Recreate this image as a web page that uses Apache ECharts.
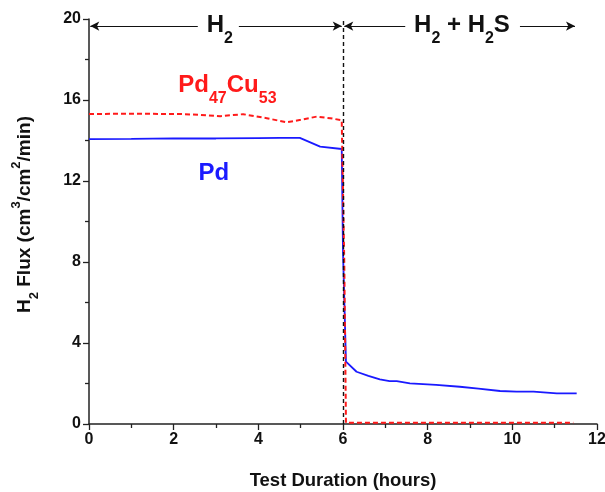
<!DOCTYPE html>
<html>
<head>
<meta charset="utf-8">
<script src="https://cdn.jsdelivr.net/npm/echarts@6/dist/echarts.min.js"></script>
<style>
  html, body { margin: 0; padding: 0; background: #fff; }
  #chart { width: 605px; height: 492px; }
</style>
</head>
<body>
<div id="chart"></div>
<script>
// Pd membrane, H2 flux vs time
var pdHours = [0, 1, 2, 3, 4, 4.5, 4.98, 5.46, 5.97, 6.0, 6.07, 6.32, 6.6, 6.87, 7.1, 7.27, 7.58, 8.2, 8.76, 9.2, 9.71, 10.1, 10.5, 11.05, 11.52];
var pdFlux = [14.07, 14.08, 14.1, 14.1, 14.12, 14.13, 14.13, 13.7, 13.58, 8.5, 3.08, 2.58, 2.38, 2.2, 2.12, 2.12, 2.01, 1.93, 1.84, 1.75, 1.63, 1.6, 1.6, 1.51, 1.51];

// Pd47Cu53 membrane
var cuHours = [0, 1, 2.15, 2.6, 3.1, 3.64, 4.2, 4.67, 5.0, 5.38, 5.7, 5.97, 6.03, 6.07, 11.44];
var cuFlux = [15.31, 15.32, 15.31, 15.27, 15.2, 15.3, 15.1, 14.9, 15.02, 15.18, 15.1, 15.0, 8.0, 0.06, 0.06];

var switchHour = 6;
var xTicks = [0, 12, 2];
var yTicks = [0, 20, 4];

function pairs(xs, ys) {
    var out = [];
    for (var i = 0; i < xs.length; i++) {
        out.push([xs[i], ys[i]]);
    }
    return out;
}

var font = '"Liberation Sans", Arial, sans-serif';
var arrowY = 19.65;

var chart = echarts.init(document.getElementById('chart'));

var option = {
    animation: false,
    grid: {left: 89, right: 8, top: 19, bottom: 68, outerBoundsMode: 'none'},
    xAxis: {
        type: 'value',
        min: xTicks[0], max: xTicks[1], interval: xTicks[2],
        name: 'Test Duration (hours)',
        nameLocation: 'middle',
        nameGap: 47,
        nameTextStyle: {fontFamily: font, fontWeight: 'bold', fontSize: 18.5, color: '#111'},
        axisLine: {lineStyle: {color: '#222', width: 1.5}},
        axisTick: {length: 6, lineStyle: {color: '#222', width: 1.3}},
        minorTick: {show: true, splitNumber: 2, length: 4, lineStyle: {color: '#222', width: 1.3}},
        splitLine: {show: false},
        axisLabel: {fontFamily: font, fontWeight: 'bold', fontSize: 16, color: '#111', margin: 8}
    },
    yAxis: {
        type: 'value',
        min: yTicks[0], max: yTicks[1], interval: yTicks[2],
        name: '{gap|}{n|H}{sub|2}{n| Flux (cm}{sup|3}{n|/cm}{sup|2}{n|/min)}',
        nameLocation: 'middle',
        nameGap: 56,
        nameRotate: 90,
        nameTextStyle: {
            rich: {
                gap: {width: 14, lineHeight: 24},
                n: {fontFamily: font, fontWeight: 'bold', fontSize: 19, color: '#111', lineHeight: 24, verticalAlign: 'top', padding: [6, 0, 0, 0]},
                sub: {fontFamily: font, fontWeight: 'bold', fontSize: 13, color: '#111', lineHeight: 24, verticalAlign: 'top', padding: [19, 0, 0, 0]},
                sup: {fontFamily: font, fontWeight: 'bold', fontSize: 13, color: '#111', lineHeight: 24, verticalAlign: 'top', padding: [1, 0, 0, 0]}
            }
        },
        axisLine: {show: true, lineStyle: {color: '#222', width: 1.5}},
        axisTick: {show: true, length: 6, lineStyle: {color: '#222', width: 1.3}},
        minorTick: {show: true, splitNumber: 2, length: 4, lineStyle: {color: '#222', width: 1.3}},
        splitLine: {show: false},
        axisLabel: {fontFamily: font, fontWeight: 'bold', fontSize: 16, color: '#111', margin: 8}
    },
    series: [
        {
            name: 'Pd47Cu53',
            type: 'line',
            data: pairs(cuHours, cuFlux),
            showSymbol: false,
            lineStyle: {color: '#ff1a1a', width: 2, type: [5, 3]},
            z: 3
        },
        {
            name: 'Pd',
            type: 'line',
            data: pairs(pdHours, pdFlux),
            showSymbol: false,
            lineStyle: {color: '#1a1aff', width: 1.8},
            z: 2
        },
        {
            name: 'switch',
            type: 'line',
            data: [],
            silent: true,
            z: 4,
            markLine: {
                silent: true,
                symbol: 'none',
                label: {show: false},
                lineStyle: {color: '#111', width: 1.4, type: [4, 3]},
                data: [{xAxis: switchHour}]
            }
        },
        {
            name: 'arrows',
            type: 'line',
            data: [],
            silent: true,
            markLine: {
                silent: true,
                label: {show: false},
                lineStyle: {color: '#111', width: 1.2, type: 'solid'},
                symbolSize: [7, 9],
                data: [
                    [{coord: [0.03, arrowY], symbol: 'arrow'}, {coord: [2.57, arrowY], symbol: 'none'}],
                    [{coord: [3.54, arrowY], symbol: 'none'}, {coord: [5.97, arrowY], symbol: 'arrow'}],
                    [{coord: [6.03, arrowY], symbol: 'arrow'}, {coord: [7.47, arrowY], symbol: 'none'}],
                    [{coord: [10.18, arrowY], symbol: 'none'}, {coord: [11.48, arrowY], symbol: 'arrow'}]
                ]
            }
        }
    ]
};
chart.setOption(option);

// annotation texts: anchor = centre of the capital letters
function textAt(x, y, text, color, size) {
    var p = chart.convertToPixel({gridIndex: 0}, [x, y]);
    var lh = Math.round(size * 1.25);
    var subSize = Math.round(size * 0.68);
    return {
        type: 'text',
        x: p[0], y: p[1] - size * 0.45,
        style: {
            text: text, align: 'center', verticalAlign: 'top', fill: color,
            rich: {
                n: {fontFamily: font, fontWeight: 'bold', fontSize: size, fill: color, lineHeight: lh, verticalAlign: 'top'},
                sub: {fontFamily: font, fontWeight: 'bold', fontSize: subSize, fill: color, lineHeight: lh, verticalAlign: 'top', padding: [Math.round(size * 0.72), 0, 0, 0]}
            }
        }
    };
}

chart.setOption({
    graphic: [
        textAt(3.09, 19.75, '{n|H}{sub|2}', '#111', 24),
        textAt(8.81, 19.75, '{n|H}{sub|2}{n| + H}{sub|2}{n|S}', '#111', 24),
        textAt(3.27, 16.79, '{n|Pd}{sub|47}{n|Cu}{sub|53}', '#ff1a1a', 24),
        textAt(2.95, 12.44, '{n|Pd}', '#1a1aff', 24)
    ]
});
</script>
</body>
</html>
